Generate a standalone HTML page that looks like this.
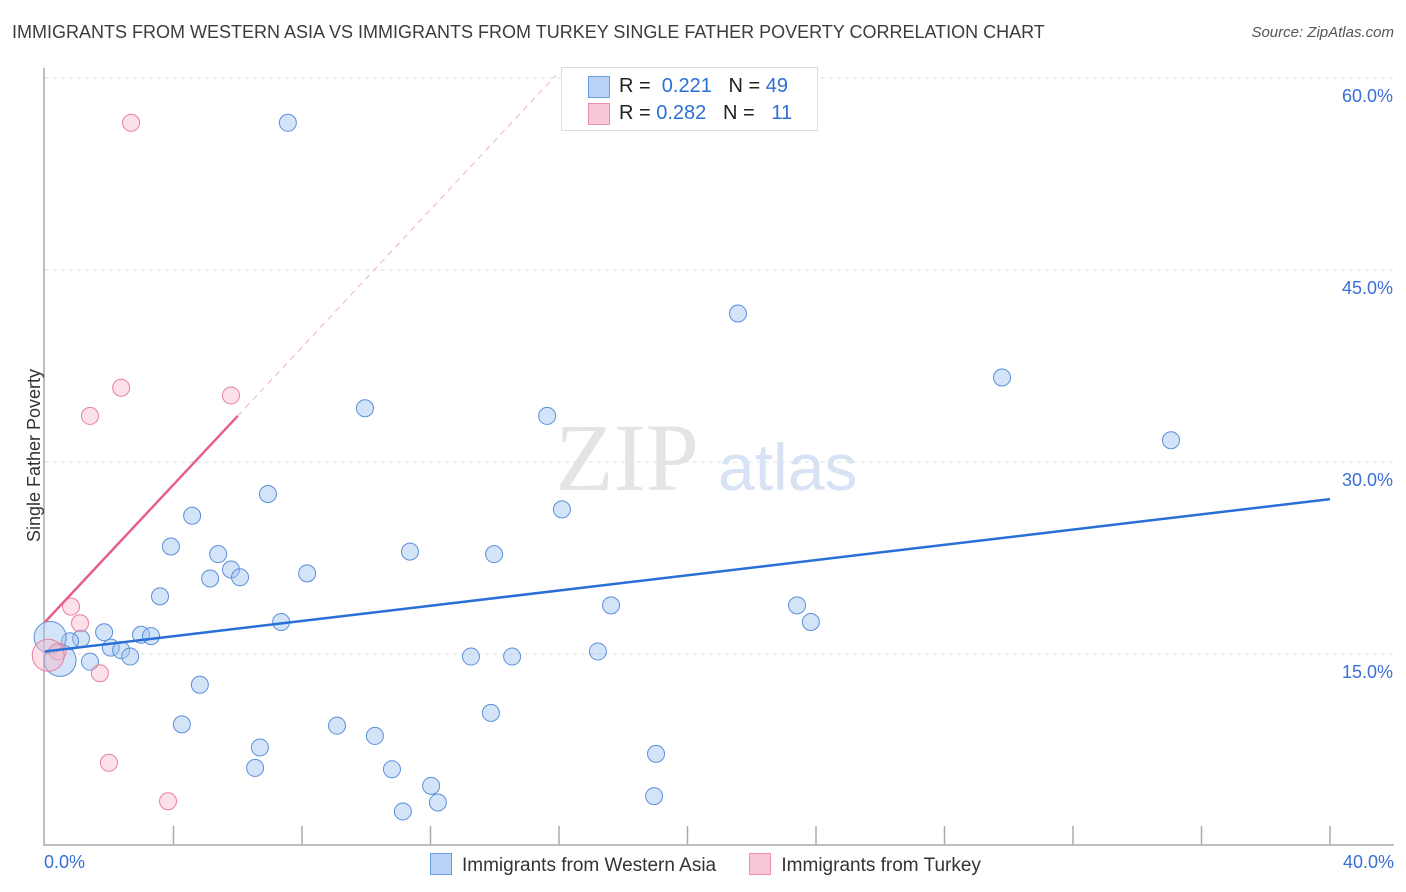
<!DOCTYPE html>
<html><head><meta charset="utf-8"><style>
body{margin:0;background:#fff;font-family:"Liberation Sans",sans-serif;}
#wrap{position:relative;width:1406px;height:892px;}
.t{position:absolute;white-space:nowrap;}
</style></head><body>
<div id="wrap">
<div class="t" style="left:12px;top:22px;font-size:18px;color:#3c3c3c;">IMMIGRANTS FROM WESTERN ASIA VS IMMIGRANTS FROM TURKEY SINGLE FATHER POVERTY CORRELATION CHART</div>
<div class="t" style="right:12px;top:24px;font-size:15px;color:#555;font-style:italic;">Source: ZipAtlas.com</div>
<svg id="svg" width="1406" height="892" style="position:absolute;left:0;top:0"></svg>
</div>
<script>
const blueX=[7.56,21.57,29.79,35.05,9.96,15.63,6.94,16.09,4.58,3.92,5.39,11.36,13.98,5.79,5.14,6.07,8.16,3.58,17.62,23.41,23.84,7.35,1.84,1.12,0.78,2.99,3.30,2.05,2.37,2.65,17.21,13.26,14.54,1.40,0.47,0.16,4.82,4.26,13.88,9.09,10.27,6.69,19.02,6.54,10.80,12.02,12.23,18.96,11.14];
const blueY=[56.5,41.6,36.6,31.7,34.2,33.6,27.5,26.3,25.8,23.4,22.8,23.0,22.8,21.6,20.9,21.0,21.3,19.5,18.8,18.8,17.5,17.5,16.7,16.2,16.0,16.5,16.4,15.5,15.3,14.8,15.2,14.8,14.8,14.4,14.5,16.3,12.6,9.5,10.4,9.4,8.6,7.7,7.2,6.1,6.0,4.7,3.4,3.9,2.7];
const blueBig=[34,35];
const pinkX=[2.68,2.37,5.79,1.40,0.81,1.09,0.40,1.71,1.99,3.83,0.1];
const pinkY=[56.5,35.8,35.2,33.6,18.7,17.4,15.2,13.5,6.5,3.5,14.9];
const pinkBig=[10];
const blueTrend=[[0,15.2],[40,27.1]];
const pinkTrend=[[0,17.5],[6.0,33.6]];
const pinkDash=[[6.0,33.6],[15.9,60.2]];
const yTicks=[15,30,45,60];
const yTickLabels=["15.0%","30.0%","45.0%","60.0%"];
const xTicks=[0,4,8,12,16,20,24,28,32,36,40];

const sx=v=>45+v*32.125, sy=v=>846-v*12.8;
const svg=document.getElementById('svg');const NS='http://www.w3.org/2000/svg';
function mk(tag,attrs){const e=document.createElementNS(NS,tag);for(const k in attrs)e.setAttribute(k,attrs[k]);svg.appendChild(e);return e;}
yTicks.forEach((v,i)=>{
 const g=mk('line',{x1:45,x2:1394,y1:sy(v),y2:sy(v),stroke:'#ddd','stroke-dasharray':'4,4'});
 
 
 const t=mk('text',{x:1393,y:sy(v)+24,'text-anchor':'end','font-size':18,fill:'#3a6fd8','font-family':'Liberation Sans, sans-serif'});
 t.textContent=yTickLabels[i];
 
 
});
const ax=mk('path',{d:'M44,68 V845 H1394',stroke:'#aaa',fill:'none','stroke-width':1.5});


xTicks.forEach(v=>{if(v===0)return;
 const l=mk('line',{x1:sx(v),x2:sx(v),y1:826,y2:845,stroke:'#aaa','stroke-width':1.5});
 
 
});
// watermark
const wm=mk('text',{x:555,y:490,'font-size':96,fill:'#e4e4e4','font-family':'Liberation Serif, serif'});wm.textContent='ZIP';


const wm2=mk('text',{x:718,y:490,'font-size':66,fill:'#d7e3f5','font-family':'Liberation Sans, sans-serif'});wm2.textContent='atlas';


blueX.forEach((x,i)=>{const big=blueBig.includes(i);
 const c=mk('circle',{cx:sx(x),cy:sy(blueY[i]),r:big?16:8.5,fill:'rgba(160,196,240,0.45)',stroke:'#5b8fdc','stroke-width':1});
 
 
});
pinkX.forEach((x,i)=>{const big=pinkBig.includes(i);
 const c=mk('circle',{cx:sx(x),cy:sy(pinkY[i]),r:big?16:8.5,fill:'rgba(248,180,200,0.4)',stroke:'#e8809e','stroke-width':1});
 
 
});
const bl=mk('line',{x1:sx(blueTrend[0][0]),y1:sy(blueTrend[0][1]),x2:sx(blueTrend[1][0]),y2:sy(blueTrend[1][1]),stroke:'#2a6fd6','stroke-width':2.5});


const pl=mk('line',{x1:sx(pinkTrend[0][0]),y1:sy(pinkTrend[0][1]),x2:sx(pinkTrend[1][0]),y2:sy(pinkTrend[1][1]),stroke:'#e8608a','stroke-width':2.5});


const pd=mk('line',{x1:sx(pinkDash[0][0]),y1:sy(pinkDash[0][1]),x2:sx(pinkDash[1][0]),y2:sy(pinkDash[1][1]),stroke:'#f0b0c4','stroke-width':1,'stroke-dasharray':'6,5'});


</script>
<div class="t" style="left:44px;top:852px;font-size:18px;color:#3a6fd8;">0.0%</div>
<div class="t" style="right:12px;top:852px;font-size:18px;color:#3a6fd8;">40.0%</div>
<div class="t" style="left:-52px;top:445px;font-size:18px;color:#333;transform:rotate(-90deg);">Single Father Poverty</div>
<div style="position:absolute;left:561px;top:67px;width:255px;height:62px;border:1px solid #ddd;background:#fff;font-size:20px;">
 <div style="position:absolute;left:26px;top:8px;width:20px;height:20px;background:#b8d3f5;border:1px solid #6f9ee0;"></div>
 <div class="t" style="left:57px;top:7px;color:#222;">R = <span style="color:#2a6fd6">&nbsp;0.221</span>&nbsp;&nbsp;&nbsp;N = <span style="color:#2a6fd6">49</span></div>
 <div style="position:absolute;left:26px;top:35px;width:20px;height:20px;background:#f9c8d6;border:1px solid #e890aa;"></div>
 <div class="t" style="left:57px;top:34px;color:#222;">R = <span style="color:#2a6fd6">0.282</span>&nbsp;&nbsp;&nbsp;N = <span style="color:#2a6fd6">&nbsp;&nbsp;11</span></div>
</div>
<div style="position:absolute;left:430px;top:853px;font-size:19px;color:#333;">
 <span style="display:inline-block;"><span style="display:inline-block;width:20px;height:20px;background:#b8d3f5;border:1px solid #6f9ee0;vertical-align:-4px;margin-right:10px;"></span>Immigrants from Western Asia</span>
 <span style="display:inline-block;margin-left:28px;"><span style="display:inline-block;width:20px;height:20px;background:#f9c8d6;border:1px solid #e890aa;vertical-align:-4px;margin-right:10px;"></span>Immigrants from Turkey</span>
</div>
</body></html>
